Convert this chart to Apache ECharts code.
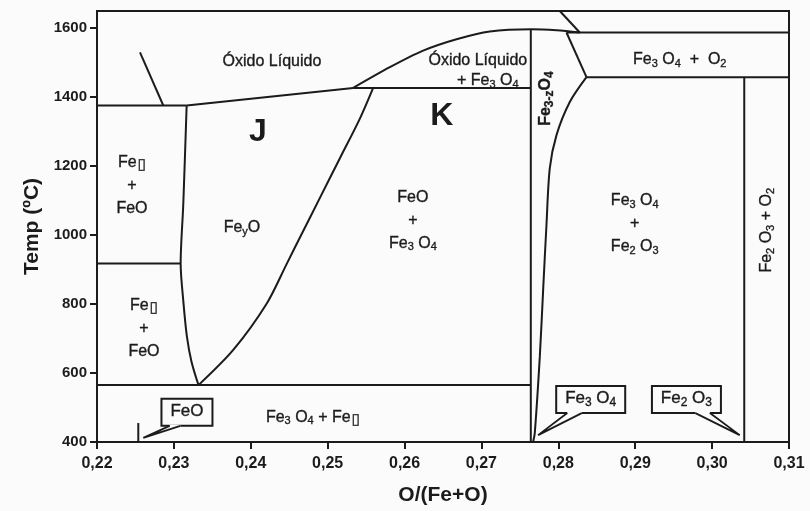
<!DOCTYPE html>
<html><head><meta charset="utf-8">
<script src="https://cdn.jsdelivr.net/npm/echarts@6/dist/echarts.min.js"></script>
<style>html,body{margin:0;padding:0;background:#fbfbfb}#c{width:810px;height:511px}</style>
</head><body><div id="c"></div>
<script>
// ---- axes ----
const xTicks = [0.22, 0.23, 0.24, 0.25, 0.26, 0.27, 0.28, 0.29, 0.30, 0.31];
const yTicks = [400, 600, 800, 1000, 1200, 1400, 1600];
const xRange = [0.22, 0.31];
const yRange = [400, 1650];

// ---- phase boundaries [O/(Fe+O), T] ----
const fePlateau1376 = [[0.22, 1376], [0.23166, 1376]];
const feLiquidus = [[0.22559, 1530], [0.22862, 1376]];
const wustiteLiquidus = [[0.23166, 1376], [0.25332, 1427]];
const plateau1427 = [[0.25332, 1427], [0.27642, 1427]];
const magnetiteLiquidus = [[0.25332, 1427], [0.25809, 1487], [0.26242, 1535], [0.26676, 1568], [0.27109, 1590.5], [0.27651, 1597], [0.27976, 1594], [0.28279, 1587.6]];
const topDiagonal = [[0.28019, 1650], [0.28279, 1587.6]];
const plateau1588 = [[0.28106, 1587.6], [0.31, 1587.6]];
const magnetiteOxyEdge = [[0.28106, 1587.6], [0.28366, 1458]];
const plateau1458 = [[0.28366, 1458], [0.31, 1458]];
const hematiteLine = [[0.30418, 1458], [0.30418, 400]];
const magnetiteLeft = [[0.27642, 400], [0.27642, 1597]];
const magnetiteRight = [[0.28366, 1458], [0.28149, 1386], [0.27976, 1290], [0.27889, 1194], [0.27846, 1031], [0.27802, 839], [0.27759, 647.5], [0.27694, 427], [0.27672, 400]];
const eutectoid565 = [[0.22, 565], [0.27642, 565]];
const plateau918 = [[0.22, 918], [0.23088, 918]];
const wustiteLeft = [[0.23166, 1376], [0.23122, 1089], [0.23088, 918], [0.23125, 803], [0.2317, 705], [0.23229, 633], [0.2332, 565]];
const wustiteRight = [[0.2332, 565], [0.23772, 667], [0.24206, 801], [0.24466, 916], [0.24639, 993], [0.24899, 1108], [0.25159, 1223], [0.25419, 1338], [0.25592, 1427]];
const feoMarker = [[0.22537, 455], [0.22537, 400]];

const straightLines = [fePlateau1376, feLiquidus, wustiteLiquidus, plateau1427, topDiagonal, plateau1588, magnetiteOxyEdge, plateau1458, hematiteLine, magnetiteLeft, eutectoid565, plateau918, feoMarker];
const curvedLines = [magnetiteLiquidus, magnetiteRight, wustiteLeft, wustiteRight];

// ---- text labels [O, T, text] ----
const regionLabels = [
  [0.24275, 1502, 'Óxido Líquido'],
  [0.26953, 1505, 'Óxido Líquido'],
  [0.27083, 1447, '+ Fe{s|3} O{s|4}'],
  [0.29579, 1508, 'Fe{s|3} O{s|4}  +  O{s|2}'],
  [0.22455, 1145, 'Fe{bx|▯}\n+\nFeO'],
  [0.22611, 730, 'Fe{bx|▯}\n+\nFeO'],
  [0.23885, 1022, 'Fe{s|y}O'],
  [0.26108, 1043, 'FeO\n+\nFe{s|3} O{s|4}'],
  [0.28994, 1033, 'Fe{s|3} O{s|4}\n+\nFe{s|2} O{s|3}'],
  [0.24808, 472, 'Fe{s|3} O{s|4} + Fe{bx|▯}']
];
const verticalLabels = [
  [0.27837, 1396, '{b|Fe}{bs|3-z}{b|O}{bs|4}'],
  [0.3071, 1014, 'Fe{s|2} O{s|3} + O{s|2}']
];
const bigLetters = [
  [0.24093, 1300, 'J'],
  [0.26485, 1344, 'K']
];
// callouts [boxO, boxT, tipO, tipT, text]
const callouts = [
  [0.2317, 486, 0.22602, 412, 'FeO'],
  [0.28421, 523, 0.27737, 420, 'Fe{s|3} O{s|4}'],
  [0.29666, 523, 0.30359, 420, 'Fe{s|2} O{s|3}']
];

const INK = '#1b1b1b';
const BG = '#fbfbfb';
const FONT = '"Liberation Sans", Arial, "DejaVu Sans", sans-serif';
const HALO = { stroke: INK, lineWidth: 0.35 };

const richBase = {
  s: Object.assign({ fontSize: 11, fontFamily: FONT, fill: INK, padding: [8, 0, 0, 0], lineHeight: 12 }, HALO),
  bx: { fontSize: 15, fontFamily: '"DejaVu Sans", sans-serif', fill: INK, padding: [6, 0, 0, 1], lineHeight: 15 },
  b: { fontSize: 16, fontWeight: 'bold', fontFamily: FONT, fill: INK },
  bs: { fontSize: 12, fontWeight: 'bold', fontFamily: FONT, fill: INK, padding: [8, 0, 0, 0], lineHeight: 12 }
};
const richCallout = {
  s: Object.assign({ fontSize: 12, fontFamily: FONT, fill: INK, padding: [9, 0, 0, 0], lineHeight: 12 }, HALO)
};

const measureCtx = document.createElement('canvas').getContext('2d');
function measureRich(str, mainSize, subSize) {
  let w = 0;
  const parts = str.split(/(\{s\|[^}]*\})/);
  parts.forEach(p => {
    if (!p) return;
    const m = p.match(/^\{s\|([^}]*)\}$/);
    if (m) { measureCtx.font = subSize + 'px ' + FONT; w += measureCtx.measureText(m[1]).width; }
    else { measureCtx.font = mainSize + 'px ' + FONT; w += measureCtx.measureText(p).width; }
  });
  return w;
}

function textSeries(list, opts) {
  return {
    type: 'custom', silent: true, z: 5,
    data: list.map((l, i) => [l[0], l[1], i]),
    renderItem: function (params, api) {
      const p = api.coord([api.value(0), api.value(1)]);
      const item = list[api.value(2)];
      const style = {
        text: item[2], rich: richBase, fill: INK,
        fontSize: opts.fontSize, fontWeight: opts.fontWeight || 'normal', fontFamily: FONT,
        lineHeight: opts.lineHeight, align: 'center', verticalAlign: 'middle'
      };
      if (opts.halo) Object.assign(style, HALO);
      return { type: 'text', x: p[0], y: p[1], rotation: opts.rotation || 0, style: style };
    }
  };
}

const calloutSeries = {
  type: 'custom', silent: true, z: 6,
  data: callouts.map((c, i) => [c[0], c[1], c[2], c[3], i]),
  renderItem: function (params, api) {
    const c = api.coord([api.value(0), api.value(1)]);
    const tip = api.coord([api.value(2), api.value(3)]);
    const item = callouts[api.value(4)];
    const w = Math.round(measureRich(item[4], 17, 12) + 18);
    const h = 27;
    const left = c[0] - w / 2, top = c[1] - h / 2, bottom = top + h;
    const sign = tip[0] < c[0] ? -1 : 1;
    const b1 = c[0] + sign * 0.13 * w, b2 = c[0] + sign * 0.34 * w;
    return {
      type: 'group', children: [
        { type: 'rect', shape: { x: left, y: top, width: w, height: h }, style: { fill: BG, stroke: INK, lineWidth: 2 } },
        { type: 'polygon', shape: { points: [[b1, bottom - 1.2], [b2, bottom - 1.2], [b2, bottom + 1.5], [b1, bottom + 1.5]] }, style: { fill: BG } },
        { type: 'polyline', shape: { points: [[b1, bottom], tip, [b2, bottom]] }, style: { fill: null, stroke: INK, lineWidth: 1.8 } },
        { type: 'text', x: c[0], y: c[1] - 1, style: Object.assign({ text: item[4], rich: richCallout, fill: INK, fontSize: 17, fontFamily: FONT, align: 'center', verticalAlign: 'middle', lineHeight: 20 }, HALO) }
      ]
    };
  }
};

function lineSeries(data, smooth) {
  return {
    type: 'line', data: data, symbol: 'none', showSymbol: false, silent: true, z: 3,
    smooth: smooth, lineStyle: { color: INK, width: 2 }
  };
}

const series = [];
straightLines.forEach(d => series.push(lineSeries(d, false)));
curvedLines.forEach(d => series.push(lineSeries(d, 0.3)));
series.push(textSeries(regionLabels, { fontSize: 16, lineHeight: 23, halo: true }));
series.push(textSeries(verticalLabels, { fontSize: 16, lineHeight: 20, rotation: Math.PI / 2, halo: true }));
series.push(textSeries(bigLetters, { fontSize: 32, fontWeight: 'bold', lineHeight: 34 }));
series.push(calloutSeries);

const chart = echarts.init(document.getElementById('c'), null, { renderer: 'canvas' });
chart.setOption({
  backgroundColor: BG,
  animation: false,
  grid: { left: 97, right: 21, top: 11, bottom: 65, show: true, borderColor: INK, borderWidth: 2, backgroundColor: 'transparent' },
  xAxis: {
    type: 'value', min: xRange[0], max: xRange[1],
    name: 'O/(Fe+O)', nameLocation: 'middle', nameGap: 43,
    nameTextStyle: { fontSize: 21, fontWeight: 'bold', color: INK, fontFamily: FONT },
    axisLine: { show: true, lineStyle: { color: INK, width: 2 } },
    axisTick: { show: true, length: 7, lineStyle: { color: INK, width: 2 }, customValues: xTicks },
    axisLabel: { customValues: xTicks, formatter: v => v.toFixed(2).replace('.', ','), fontSize: 16, fontWeight: 'bold', color: INK, fontFamily: FONT, margin: 14 },
    splitLine: { show: false }
  },
  yAxis: {
    type: 'value', min: yRange[0], max: yRange[1],
    name: 'Temp (ºC)', nameLocation: 'middle', nameGap: 49,
    nameTextStyle: { fontSize: 21, fontWeight: 'bold', color: INK, fontFamily: FONT },
    axisLine: { show: true, lineStyle: { color: INK, width: 2 } },
    axisTick: { show: true, length: 7, lineStyle: { color: INK, width: 2 }, customValues: yTicks },
    axisLabel: { customValues: yTicks, formatter: v => String(v), fontSize: 15, fontWeight: 'bold', color: INK, fontFamily: FONT, margin: 10 },
    splitLine: { show: false }
  },
  series: series
});
</script>
</body></html>
